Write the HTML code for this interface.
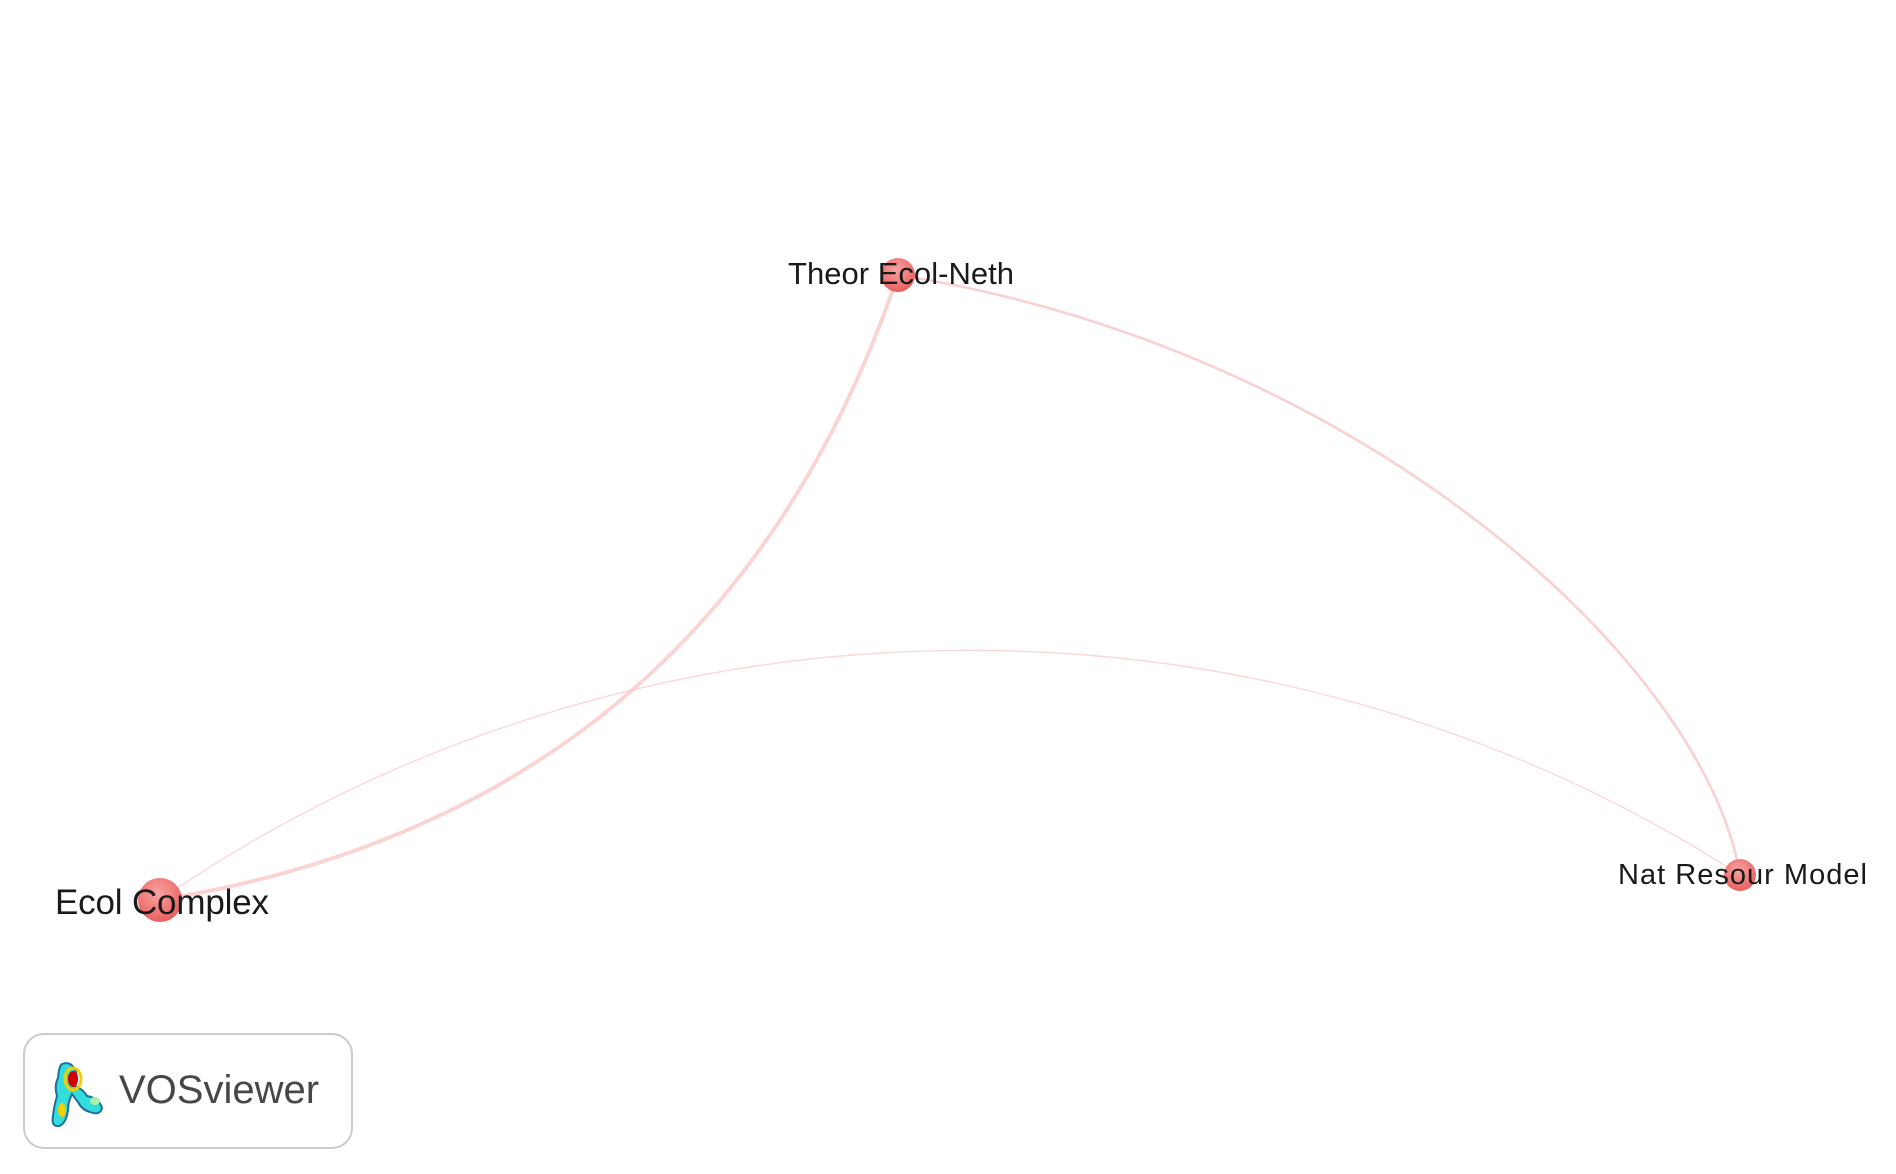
<!DOCTYPE html>
<html><head><meta charset="utf-8"><style>
html,body{margin:0;padding:0;background:#fff;}
svg{display:block;font-family:"Liberation Sans",sans-serif;}
</style></head><body>
<svg id="net" width="1896" height="1174" viewBox="0 0 1896 1174">
<defs>
<radialGradient id="ng" cx="0.45" cy="0.35" r="0.7">
<stop offset="0" stop-color="#f7a3a3"/><stop offset="1" stop-color="#e85a5a"/>
</radialGradient>
</defs>
<g id="edges"></g>
<g id="nodes"></g>
<g id="labels"></g>
<g>
<rect x="24" y="1034" width="328" height="114" rx="20" fill="#fff" stroke="#cccccc" stroke-width="2"/>
<path d="M62 1064 q8 -3 12 4 q5 8 1 18 q8 3 12 10 q12 2 15 12 q-2 8 -12 4 q-8 -2 -12 -10 q-4 -5 -6 -8 q-4 8 -4 16 q-2 14 -9 16 q-8 1 -6 -10 q1 -10 4 -20 q-3 -10 1 -18 q1 -12 4 -14z" fill="#33dddd" stroke="#1a6fa0" stroke-width="2"/>
<ellipse cx="73" cy="1079" rx="5" ry="8" fill="#d40000"/>
<ellipse cx="73" cy="1079" rx="8" ry="11" fill="none" stroke="#f0d000" stroke-width="3"/>
<ellipse cx="62" cy="1110" rx="4" ry="7" fill="#f0d000"/>
<ellipse cx="95" cy="1101" rx="5" ry="4" fill="#aaf0aa"/>
<text x="119" y="1103" font-size="40" fill="#474747">VOSviewer</text>
</g>
</svg>
<script>
const nodeNames = ["Ecol Complex","Theor Ecol-Neth","Nat Resour Model"];
const nodeX = [160, 898, 1740];
const nodeY = [900, 275, 875];
const nodeR = [22, 17, 16];
const edgeFrom = [0, 1, 0];
const edgeTo = [1, 2, 2];
const edgeWeight = [3, 2, 1];
const ns="http://www.w3.org/2000/svg";
const E=document.getElementById('edges'),N=document.getElementById('nodes'),L=document.getElementById('labels');
// curve shape: control-point offsets as fractions along the chord (u) and perpendicular (v)
const shape=[[0.333,-0.4,0.667,-0.4],[0.4,0.4,0.85,0.3],[0.3,0.4,0.7,0.4]];
const eo=[0.75,0.8,0.7];
edgeFrom.forEach((f,i)=>{
  const t=edgeTo[i];
  const x0=nodeX[f],y0=nodeY[f],x3=nodeX[t],y3=nodeY[t];
  const dx=x3-x0,dy=y3-y0;
  const px=dy,py=-dx;
  const s=shape[i];
  const c1x=x0+dx*s[0]+px*s[1]*0.5, c1y=y0+dy*s[0]+py*s[1]*0.5;
  const c2x=x0+dx*s[2]+px*s[3]*0.5, c2y=y0+dy*s[2]+py*s[3]*0.5;
  const p=document.createElementNS(ns,'path');
  p.setAttribute('d',`M${x0} ${y0} C${c1x} ${c1y} ${c2x} ${c2y} ${x3} ${y3}`);
  p.setAttribute('fill','none');p.setAttribute('stroke','#f9c4c4');
  p.setAttribute('stroke-width',edgeWeight[i]*1.3);p.setAttribute('opacity',eo[i]);
  
  
  E.appendChild(p);
});
const fs=[35,31,29],lx=[55,788,1618],ly=[914,284,884],lw=[214,226,249];
nodeNames.forEach((n,i)=>{
  const c=document.createElementNS(ns,'circle');
  c.setAttribute('cx',nodeX[i]);c.setAttribute('cy',nodeY[i]);c.setAttribute('r',nodeR[i]);
  c.setAttribute('fill','url(#ng)');
  
  
  N.appendChild(c);
  const t=document.createElementNS(ns,'text');
  t.setAttribute('x',lx[i]);t.setAttribute('y',ly[i]);t.setAttribute('font-size',fs[i]);
  t.setAttribute('fill','#1a1a1a');t.setAttribute('textLength',lw[i]);
  t.textContent=n;
  
  
  L.appendChild(t);
});
</script>
</body></html>
